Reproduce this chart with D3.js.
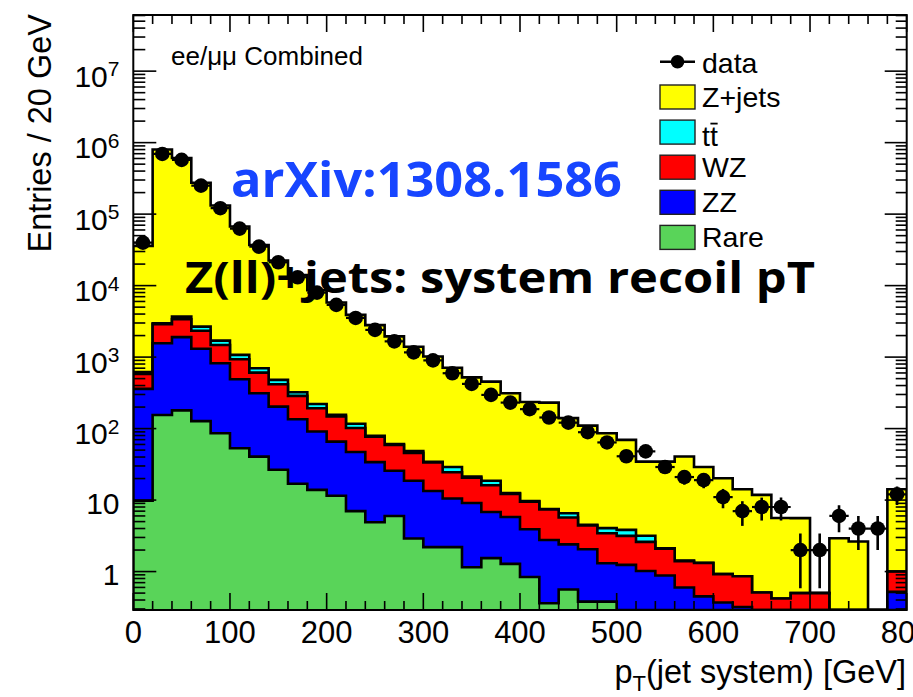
<!DOCTYPE html>
<html>
<head>
<meta charset="utf-8">
<script src="https://cdn.jsdelivr.net/npm/d3@7/dist/d3.min.js"></script>
<style>
  body { margin: 0; background: #fff; }
  svg { display: block; }
  text { font-family: "Liberation Sans", Arial, Helvetica, sans-serif; fill: #000; }
</style>
</head>
<body>
<svg id="chart" width="913" height="697"></svg>
<script>
// ---- binning: 20 GeV bins from 0 to 800 GeV ----
const binWidth = 20;
const xMax = 800;
const binLow = d3.range(0, xMax, binWidth);

// ---- observed events per bin ----
const dataCounts = [39900, 695000, 573000, 250000, 121000, 62700, 35100, 21200, 13100, 7980,
  5370, 3530, 2400, 1660, 1164, 899, 595, 422, 296, 231,
  187, 143, 121, 89, 64, 41, 48, 29, 21, 19,
  11, 7, 8, 8, 2, 2, 6, 4, 4, 12];

// ---- background predictions per bin (stacked) ----
const zJets = [35380, 797000, 606300, 272300, 130300, 65900, 36300, 22020, 13680, 8380,
  5640, 3780, 2720, 1890, 1350, 986, 681, 499, 435, 300,
  226, 223.5, 133.5, 105.5, 82, 65.7, 31.3, 32.4, 39.2, 27.7,
  19.3, 13.3, 11.3, 5.2, 5.1, 0, 2.93, 2.63, 0, 13.2];
const ttbar = [40, 100, 300, 330, 220, 139, 93, 62, 36, 28,
  8, 15, 2, 2, 2.8, 0.8, 4.5, 0.8, 2.5, 0.3,
  0.2, 0.1, 0.85, 0.1, 0.61, 0.67, 0.57, 0.03, 0.03, 0.01,
  0, 0, 0, 0, 0, 0, 0, 0, 0, 0];
const wz = [220, 1316, 1480, 1030, 658, 444, 294, 215, 152, 102,
  82, 55, 43, 33.3, 27.1, 20.1, 14, 11.4, 9.3, 6.4,
  5.6, 4.63, 3.3, 2.35, 2.13, 1.92, 1.58, 1.21, 0.8, 0.87,
  0.55, 0.54, 0.36, 0.32, 0.4, 0.42, 0, 0, 0, 0.48];
const zz = [350, 1410, 1720, 1183, 736, 438, 272, 176.5, 118, 77,
  54.3, 40, 29.1, 19.7, 15.7, 11.2, 8.3, 7.95, 5.26, 4.52,
  3.06, 2.41, 1.84, 1.67, 0.93, 1.24, 1.02, 0.88, 0.6, 0.45,
  0.37, 0.32, 0.15, 0.1, 0.1, 0.08, 0, 0, 0, 0.52];
const rare = [9.8, 155, 180, 127, 86, 53, 40.6, 26.5, 16.9, 13.9,
  11.5, 7.0, 4.9, 6.0, 2.9, 2.2, 2.2, 1.15, 1.54, 1.28,
  0.84, 0.36, 0.56, 0.38, 0.38, 0, 0, 0, 0, 0,
  0, 0, 0, 0, 0, 0, 0, 0, 0, 0];

// ---- axes ----
const xTickValues = [0, 100, 200, 300, 400, 500, 600, 700, 800];
const yDecades = [1, 10, 1e2, 1e3, 1e4, 1e5, 1e6, 1e7];
const yTickExponents = ["", "", "2", "3", "4", "5", "6", "7"];
const yTickBases = ["1", "10", "10", "10", "10", "10", "10", "10"];

// ---- legend ----
const legendLabels = ["Z+jets", "tt", "WZ", "ZZ", "Rare"];
const layerKeys = ["zjets", "ttbar", "wz", "zz", "rare"];
const layerColors = { zjets: "#ffff00", ttbar: "#00ffff", wz: "#ff0000", zz: "#0000ff", rare: "#59d459" };

const svg = d3.select("#chart");
const frame = { left: 133.3, right: 906.7, top: 15, bottom: 610 };
const yMin = 0.29, yMax = 6.1e7;

const x = d3.scaleLinear().domain([0, xMax]).range([frame.left, frame.right]);
const y = d3.scaleLog().domain([yMin, yMax]).range([frame.bottom, frame.top]);
const yc = v => (v <= yMin ? frame.bottom : Math.max(frame.top, y(v)));

svg.append("defs").append("clipPath").attr("id", "plotclip")
  .append("rect")
  .attr("x", frame.left).attr("y", frame.top)
  .attr("width", frame.right - frame.left).attr("height", frame.bottom - frame.top);

// ---- stacked histogram ----
const rows = binLow.map((b, i) => ({
  rare: rare[i], zz: zz[i], wz: wz[i], ttbar: ttbar[i], zjets: zJets[i]
}));
const stacked = d3.stack().keys(["rare", "zz", "wz", "ttbar", "zjets"])(rows);

const histG = svg.append("g").attr("clip-path", "url(#plotclip)");
const area = d3.area()
  .x(p => x(p[0])).y0(frame.bottom).y1(p => yc(p[1]))
  .curve(d3.curveStepAfter);
const outline = d3.line()
  .x(p => x(p[0])).y(p => yc(p[1]))
  .curve(d3.curveStepAfter);

// draw from the topmost cumulative layer down, so lower layers cover
stacked.slice().reverse().forEach(layer => {
  const pts = layer.map((d, i) => [binLow[i], d[1]]);
  pts.push([xMax, layer[layer.length - 1][1]]);
  histG.append("path").attr("d", area(pts))
    .attr("fill", layerColors[layer.key]).attr("stroke", "none");
  const linePts = [[0, 0]].concat(pts).concat([[xMax, 0]]);
  histG.append("path").attr("d", outline(linePts))
    .attr("fill", "none").attr("stroke", "#000").attr("stroke-width", 2.6)
    .attr("stroke-linejoin", "miter");
});

// ---- data points with Poisson errors ----
const dataG = svg.append("g").attr("clip-path", "url(#plotclip)");
dataCounts.forEach((n, i) => {
  const cx = x(binLow[i] + binWidth / 2);
  const err = Math.sqrt(n);
  dataG.append("line")
    .attr("x1", cx).attr("x2", cx)
    .attr("y1", yc(n + err)).attr("y2", yc(n - err))
    .attr("stroke", "#000").attr("stroke-width", 2.6);
  dataG.append("line")
    .attr("x1", x(binLow[i])).attr("x2", x(binLow[i] + binWidth))
    .attr("y1", y(n)).attr("y2", y(n))
    .attr("stroke", "#000").attr("stroke-width", 2.2);
  dataG.append("circle").attr("cx", cx).attr("cy", y(n)).attr("r", 7.3).attr("fill", "#000");
});

// ---- frame and ticks ----
const axG = svg.append("g").attr("stroke", "#000").attr("stroke-width", 1.6);
axG.append("rect")
  .attr("x", frame.left).attr("y", frame.top)
  .attr("width", frame.right - frame.left).attr("height", frame.bottom - frame.top)
  .attr("fill", "none").attr("stroke-width", 2);

const xMinor = d3.range(0, xMax + 1, binWidth);
xMinor.forEach(v => {
  const major = xTickValues.includes(v);
  const len = major ? 17 : 9;
  axG.append("line").attr("x1", x(v)).attr("x2", x(v))
    .attr("y1", frame.bottom).attr("y2", frame.bottom - len);
  axG.append("line").attr("x1", x(v)).attr("x2", x(v))
    .attr("y1", frame.top).attr("y2", frame.top + len);
});

const yMinorTicks = [];
for (let e = -1; e <= 7; e++) {
  for (let k = 2; k <= 9; k++) {
    const v = k * Math.pow(10, e);
    if (v >= yMin && v <= yMax) yMinorTicks.push(v);
  }
}
yMinorTicks.forEach(v => {
  axG.append("line").attr("x1", frame.left).attr("x2", frame.left + 12)
    .attr("y1", y(v)).attr("y2", y(v));
  axG.append("line").attr("x1", frame.right).attr("x2", frame.right - 11)
    .attr("y1", y(v)).attr("y2", y(v));
});
yDecades.forEach(v => {
  axG.append("line").attr("x1", frame.left).attr("x2", frame.left + 23)
    .attr("y1", y(v)).attr("y2", y(v));
  axG.append("line").attr("x1", frame.right).attr("x2", frame.right - 22)
    .attr("y1", y(v)).attr("y2", y(v));
});

// ---- tick labels ----
xTickValues.forEach(v => {
  svg.append("text").attr("x", x(v)).attr("y", 643)
    .attr("text-anchor", "middle").attr("font-size", 31).text(v);
});
yDecades.forEach((v, i) => {
  const sup = yTickExponents[i];
  const t = svg.append("text").attr("x", 119.5)
    .attr("y", y(v) + (sup ? 15.5 : 13.5))
    .attr("text-anchor", "end").attr("font-size", 30);
  t.append("tspan").text(yTickBases[i]);
  if (sup) t.append("tspan").attr("font-size", 21).attr("dy", -10.5).text(sup);
});

// ---- axis titles ----
svg.append("text")
  .attr("transform", "translate(51,14) rotate(-90)")
  .attr("text-anchor", "end").attr("font-size", 32.5)
  .text("Entries / 20 GeV");
const xt = svg.append("text").attr("x", 906).attr("y", 683)
  .attr("text-anchor", "end").attr("font-size", 32.5);
xt.append("tspan").text("p");
xt.append("tspan").attr("font-size", 22).attr("dy", 8).text("T");
xt.append("tspan").attr("dy", -8).text("(jet system) [GeV]");

svg.append("text").attr("x", 171).attr("y", 65).attr("font-size", 26)
  .text("ee/\u03bc\u03bc Combined");

// ---- legend ----
const lg = svg.append("g");
lg.append("line").attr("x1", 660).attr("x2", 695).attr("y1", 61.7).attr("y2", 61.7)
  .attr("stroke", "#000").attr("stroke-width", 2.4);
lg.append("circle").attr("cx", 677.5).attr("cy", 61.7).attr("r", 6.8).attr("fill", "#000");
lg.append("text").attr("x", 702).attr("y", 72.5).attr("font-size", 28.5).text("data");

legendLabels.forEach((label, i) => {
  const top = 85 + 35.1 * i;
  lg.append("rect").attr("x", 660).attr("y", top).attr("width", 35).attr("height", 24)
    .attr("fill", layerColors[layerKeys[i]]).attr("stroke", "#222").attr("stroke-width", 1.4);
  const tx = lg.append("text").attr("x", 702).attr("y", top + (i === 1 ? 25.5 : 21.5))
    .attr("font-size", 28.5).text(label);
  if (i === 1) {
    // bar over the second t of "tt"
    const node = tx.node();
    const sx = node.getStartPositionOfChar(1).x;
    const w = node.getSubStringLength(1, 1);
    lg.append("line").attr("x1", sx + 0.5).attr("x2", sx + w - 0.2)
      .attr("y1", top + 3.5).attr("y2", top + 3.5)
      .attr("stroke", "#000").attr("stroke-width", 1.8);
  }
});

// ---- annotations ----
svg.append("text").attr("x", 231).attr("y", 196.5)
  .style("font-family", "'Open Sans', 'Noto Sans', sans-serif").style("font-weight", 700)
  .attr("font-size", 48).style("fill", "#1745ff")
  .attr("textLength", 391).attr("lengthAdjust", "spacingAndGlyphs")
  .text("arXiv:1308.1586");
svg.append("text").attr("x", 185).attr("y", 293)
  .style("font-family", "'Open Sans', 'Noto Sans', sans-serif").style("font-weight", 700)
  .attr("font-size", 43)
  .attr("textLength", 630).attr("lengthAdjust", "spacingAndGlyphs")
  .text("Z(ll)+jets: system recoil pT");
</script>
</body>
</html>
